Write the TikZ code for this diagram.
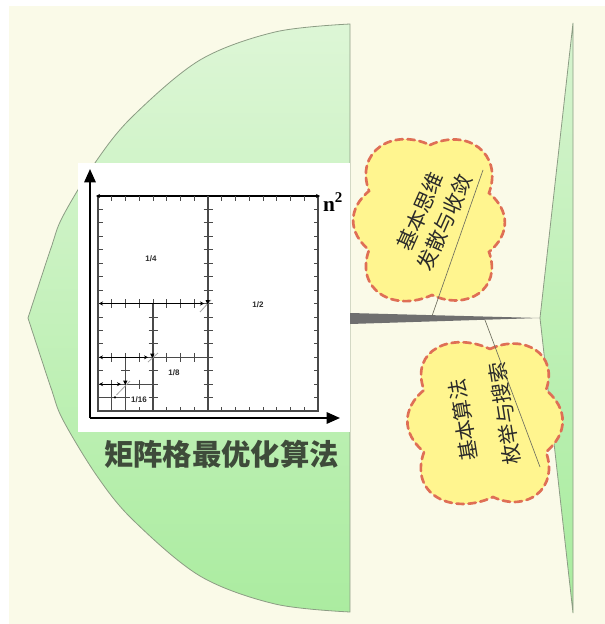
\documentclass[tikz,border=0pt]{standalone}
\usepackage{fontspec}
\newfontfamily\cjk{Noto Sans CJK SC}
\newfontfamily\timesf{Liberation Serif}
\newfontfamily\arialf{Liberation Sans}
\usetikzlibrary{arrows.meta}
\definecolor{bgcream}{HTML}{FAFAE8}
\definecolor{gTop}{HTML}{DDF6D6}
\definecolor{gBot}{HTML}{ABECA0}
\definecolor{gTopB}{HTML}{D6F4CF}
\definecolor{gBotB}{HTML}{A8EC9E}
\definecolor{edgec}{HTML}{8C9C84}
\definecolor{cloudfill}{HTML}{FFF58F}
\definecolor{cloudedge}{HTML}{DF6F55}
\definecolor{trunkc}{HTML}{6F6F6F}
\definecolor{branchc}{HTML}{707060}
\definecolor{titlec}{HTML}{3E4B3A}
\definecolor{gridc}{HTML}{4A4A4A}
\definecolor{textc}{HTML}{2A2A2A}
\tikzset{
  shapeedge/.style={draw=edgec, line width=0.6pt},
  cloudstyle/.style={fill=cloudfill, draw=cloudedge, line width=2pt, dash pattern=on 5.5pt off 3.5pt, line cap=round},
  cloudtext/.style={text=textc, inner sep=0pt, align=center},
  branch/.style={draw=branchc, line width=0.5pt},
  gridline/.style={draw=gridc, line width=0.9pt},
  tickline/.style={draw=gridc, line width=0.6pt},
  arrline/.style={draw=black, line width=0.9pt, {Stealth[length=3pt,width=3pt]}-{Stealth[length=3pt,width=3pt]}},
  axisline/.style={draw=black, line width=1.5pt, -{Triangle[length=10pt,width=8.5pt]}},
  fraclabel/.style={text=textc, font=\arialf\bfseries\fontsize{6}{7}\selectfont, inner sep=0pt},
  slash/.style={draw=gray!70, line width=0.6pt},
}
\begin{document}
\begin{tikzpicture}[x=0.75pt,y=0.75pt]
\useasboundingbox (0,0) rectangle (605,-624);
\fill[white] (0,0) rectangle (605,-624);
\fill[bgcream] (9,-6) rectangle (605,-624);

% left big shape
\path[shapeedge, top color=gTop, bottom color=gBot]
  (350,-24) -- (350,-612)
  -- plot[smooth,tension=0.55] coordinates {(350,-612) (275,-604) (200,-576) (133,-520) (97,-476) (63,-420) (51,-388) (28,-318)}
  -- plot[smooth,tension=0.55] coordinates {(28,-318) (51,-248) (63,-216) (97,-160) (133,-116) (200,-60) (275,-32) (350,-24)}
  -- cycle;

% right thin triangle
\path[shapeedge, top color=gTopB, bottom color=gBotB] (573,-23) -- (540,-318) -- (573,-613) -- cycle;

% trunk
\fill[trunkc] (350,-313) -- (540,-318) -- (350,-324) -- cycle;

% clouds
\coordinate (c1T) at (430,-145);
\coordinate (c1R1) at (489,-193);
\coordinate (c1R2) at (489,-252);
\coordinate (c1B) at (432,-295);
\coordinate (c1L2) at (369,-250);
\coordinate (c1L1) at (369,-191);
\path[cloudstyle] (c1T) to[out=25,in=70,looseness=1.4] (c1R1) to[out=-40,in=40,looseness=1.2] (c1R2)
  to[out=-70,in=-25,looseness=1.4] (c1B) to[out=205,in=-110,looseness=1.4] (c1L2)
  to[out=140,in=-140,looseness=1.2] (c1L1) to[out=110,in=155,looseness=1.4] (c1T) -- cycle;

\coordinate (c2T) at (490,-349);
\coordinate (c2R1) at (546,-390);
\coordinate (c2R2) at (546,-452);
\coordinate (c2B) at (493,-497);
\coordinate (c2L2) at (424,-452);
\coordinate (c2L1) at (424,-390);
\path[cloudstyle] (c2T) to[out=25,in=70,looseness=1.4] (c2R1) to[out=-40,in=40,looseness=1.2] (c2R2)
  to[out=-70,in=-25,looseness=1.4] (c2B) to[out=205,in=-110,looseness=1.4] (c2L2)
  to[out=140,in=-140,looseness=1.2] (c2L1) to[out=110,in=155,looseness=1.4] (c2T) -- cycle;

% branches
\coordinate (b1s) at (432,-316);
\coordinate (b1e) at (483,-170);
\coordinate (b2s) at (485,-320);
\coordinate (b2e) at (540,-467);
\draw[branch] (b1s) -- (b1e);
\draw[branch] (b2s) -- (b2e);

% cloud texts
\node[cloudtext, rotate=66, font=\cjk\fontsize{15.5}{20}\selectfont] (t1) at (432.5,-217) {基本思维\\发散与收敛};
\node[cloudtext, rotate=99, font=\cjk\fontsize{15.5}{31.5}\selectfont] (t2) at (484,-417) {基本算法\\枚举与搜索};

% white picture box
\fill[white] (78,-163) rectangle (350,-432);

% grid
\draw[gridline] (98,-196) -- (98,-411) -- (318,-411) -- (318,-196);
\draw[arrline] (96,-196) -- (320,-196);
\foreach \i in {1,...,15} {
  \draw[tickline] ({98+13.75*\i},-196) -- ++(0,-4.5);
  \draw[tickline] ({98+13.75*\i},-411) -- ++(0,4.5);
  \draw[tickline] (98,{-196-13.44*\i}) -- ++(4.5,0);
  \draw[tickline] (318,{-196-13.44*\i}) -- ++(-4.5,0);
  \draw[tickline] (203.5,{-196-13.44*\i}) -- (212.5,{-196-13.44*\i});
}
\draw[gridline] (208,-196) -- (208,-411);
% j=8 horizontal
\draw[gridline] (98,-303.5) -- (208,-303.5);
\foreach \i in {1,...,7} \draw[tickline] ({98+13.75*\i},-299) -- ({98+13.75*\i},-308);
% i=4 vertical
\draw[gridline] (153,-303.5) -- (153,-411);
\foreach \j in {9,...,15} \draw[tickline] (148.5,{-196-13.44*\j}) -- (157.5,{-196-13.44*\j});
% j=12 horizontal
\draw[gridline] (98,-357.3) -- (208,-357.3);
\foreach \i in {1,...,7} \draw[tickline] ({98+13.75*\i},-352.8) -- ({98+13.75*\i},-361.8);
% i=2 vertical
\draw[gridline] (125.5,-357.3) -- (125.5,-411);
\foreach \j in {13,...,15} \draw[tickline] (121,{-196-13.44*\j}) -- (130,{-196-13.44*\j});
% j=14 horizontal
\draw[gridline] (98,-384.2) -- (153,-384.2);
\foreach \i in {1,...,3} \draw[tickline] ({98+13.75*\i},-379.7) -- ({98+13.75*\i},-388.7);
% small cells
\draw[gridline] (111.75,-384.2) -- (111.75,-411);
\draw[gridline] (98,-397.6) -- (125.5,-397.6);

% double arrows
\coordinate (a1l) at (99,-303.5);
\coordinate (a1r) at (204,-303.5);
\coordinate (a2l) at (99,-357.3);
\coordinate (a2r) at (148,-357.3);
\coordinate (a3l) at (99,-384.2);
\coordinate (a3r) at (121,-384.2);
\draw[arrline] (a1l) -- (a1r);
\draw[arrline] (a2l) -- (a2r);
\draw[arrline] (a3l) -- (a3r);
% markers and slashes
\draw[slash] (200,-312) -- (211,-300);
\fill[black] (205.5,-300) -- (210,-300) -- (207.7,-304.5) -- cycle;
\draw[slash] (148,-362) -- (158,-353);
\fill[black] (150,-353.5) -- (154.5,-353.5) -- (152.3,-358) -- cycle;
\draw[slash] (116.5,-395) -- (130,-381);
\fill[black] (123,-380.5) -- (127.5,-380.5) -- (125.3,-385) -- cycle;
\fill[black] (115,-397.3) circle (1.2);

% labels
\node[fraclabel] (l4) at (151,-259) {1/4};
\node[fraclabel] (l2) at (258,-305) {1/2};
\node[fraclabel] (l8) at (174,-373) {1/8};
\node[fraclabel] (l16) at (139,-400) {1/16};
\node[inner sep=0pt, text=black, font=\timesf\bfseries\fontsize{16}{18}\selectfont] (n2) at (333,-202) {n\textsuperscript{2}};

% axes
\coordinate (orig) at (90,-418);
\coordinate (ytip) at (90,-169);
\coordinate (xtip) at (340,-418);
\draw[axisline] (orig) -- (ytip);
\draw[axisline] (orig) -- (xtip);

% title
\node[inner sep=0pt, text=titlec, font=\cjk\bfseries\fontsize{22}{26}\selectfont] (title) at (221.5,-454) {矩阵格最优化算法};
\end{tikzpicture}
\end{document}
